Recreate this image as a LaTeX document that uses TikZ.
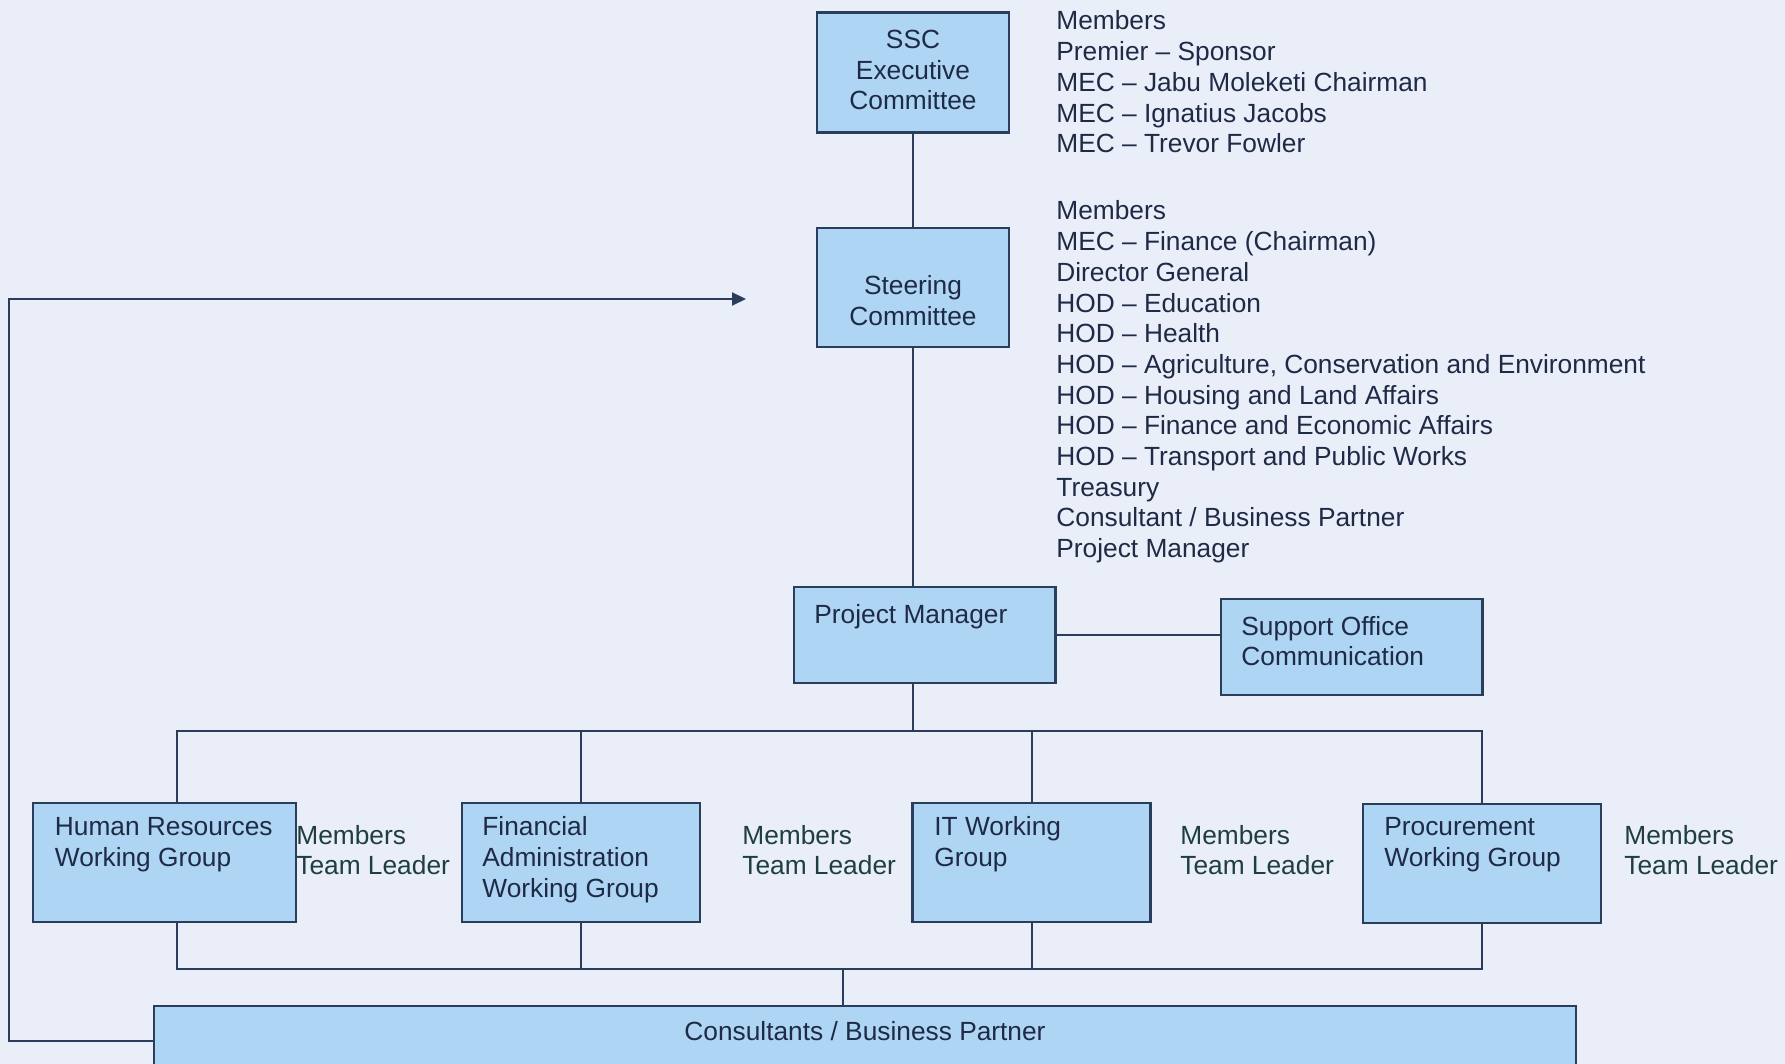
\documentclass[tikz,border=0pt]{standalone}
\usepackage{fontspec}
\setmainfont{Liberation Sans}
\usetikzlibrary{arrows.meta}
\definecolor{paper}{RGB}{234,238,249}
\definecolor{boxblue}{RGB}{174,213,243}
\definecolor{boxedge}{RGB}{42,62,92}
\definecolor{ink}{RGB}{30,42,70}
\definecolor{greenink}{RGB}{30,62,64}

\begin{document}
\begin{tikzpicture}
    [
        x = 0.5pt, y = -0.5pt,
        box/.style  = {draw=boxedge, fill=boxblue, line width=1.2pt, inner sep=0pt},
        link/.style = {draw=boxedge, line width=1pt},
        txt/.style  = {text=ink, font=\fontsize{13.15}{15.35}\selectfont, inner sep=0pt},
        role/.style = {txt, text=greenink, align=left, anchor=west}
    ]

    \fill[paper] (0,0) rectangle (1785,1064);
    \useasboundingbox (0,0) rectangle (1785,1064);

    % boxes
    \node[box, minimum width=96pt, minimum height=60pt] (ssc) at (913,72.7) {};
    \node[box, minimum width=96pt, minimum height=59.5pt] (steer) at (913,287.5) {};
    \node[box, minimum width=130.75pt, minimum height=48pt] (pm) at (924.75,635) {};
    \node[box, minimum width=130.75pt, minimum height=48pt] (sup) at (1351.75,647) {};
    \node[box, minimum width=131.5pt, minimum height=59.65pt] (hr) at (164.5,862.35) {};
    \node[box, minimum width=119pt, minimum height=59.65pt] (fa) at (581,862.35) {};
    \node[box, minimum width=119pt, minimum height=59.65pt] (it) at (1031.5,862.35) {};
    \node[box, minimum width=119pt, minimum height=59.6pt] (proc) at (1482,863.5) {};
    \node[box, minimum width=711pt, minimum height=34.5pt] (cons) at (865,1040.5) {};

    % box texts
    \node[txt, align=center] (ssctext) at (913,70) {SSC\\Executive\\Committee};
    \node[txt, align=center] (steertext) at (913,300.5) {Steering\\Committee};
    \node[txt, anchor=west] (pmtext) at (814,616.5) {Project Manager};
    \node[txt, anchor=west, align=left] (suptext) at (1241,641) {Support Office\\Communication};
    \node[txt, anchor=west, align=left] (hrtext) at (54.5,844.5) {Human Resources\\Working Group};
    \node[txt, anchor=west, align=left] (fatext) at (482,859.5) {Financial\\Administration\\Working Group};
    \node[txt, anchor=west, align=left] (ittext) at (934,844.5) {IT Working\\Group};
    \node[txt, anchor=west, align=left] (proctext) at (1384,845) {Procurement\\Working Group};
    \node[txt] (constext) at (865,1031) {Consultants / Business Partner};

    % member lists
    \node[txt, anchor=west, align=left] (execlist) at (1056,82) {Members\\Premier -- Sponsor\\MEC -- Jabu Moleketi Chairman\\MEC -- Ignatius Jacobs\\MEC -- Trevor Fowler};
    \node[txt, anchor=west, align=left] (steerlist) at (1056,382) {Members\\MEC -- Finance (Chairman)\\Director General\\HOD -- Education\\HOD -- Health\\HOD -- Agriculture, Conservation and Environment\\HOD -- Housing and Land Affairs\\HOD -- Finance and Economic Affairs\\HOD -- Transport and Public Works\\Treasury\\Consultant / Business Partner\\Project Manager};
    \node[role] (hrroles) at (296,850) {Members\\Team Leader};
    \node[role] (faroles) at (742,850) {Members\\Team Leader};
    \node[role] (itroles) at (1180,850) {Members\\Team Leader};
    \node[role] (procroles) at (1624,850) {Members\\Team Leader};

    % connectors
    \coordinate (topbus) at (913,731);
    \coordinate (hrdrop) at (177,731);
    \coordinate (lowbus) at (843,969);
    \coordinate (fbcorner) at (9,299);
    \coordinate (fbtip) at (746,299);

    \draw[link] (ssc) -- (steer);
    \draw[link] (steer.south) -- (steer.south |- pm.north);
    \draw[link] (pm.east) -- (pm.east -| sup.west);
    \draw[link] (pm.south -| topbus) -- (topbus);
    \draw[link] (hrdrop |- hr.north) -- (hrdrop) -- (proc.north |- hrdrop) -- (proc.north);
    \foreach \wg in {fa, it}
        \draw[link] (\wg.north) -- (\wg.north |- topbus);
    \draw[link] (hrdrop |- hr.south) -- (hrdrop |- lowbus) -- (proc.south |- lowbus) -- (proc.south);
    \foreach \wg in {fa, it}
        \draw[link] (\wg.south) -- (\wg.south |- lowbus);
    \draw[link] (lowbus) -- (lowbus |- cons.north);
    \draw[link, -{Triangle[length=7pt, width=6.5pt]}] (cons.west) -| (fbcorner) -- (fbtip);
\end{tikzpicture}
\end{document}
